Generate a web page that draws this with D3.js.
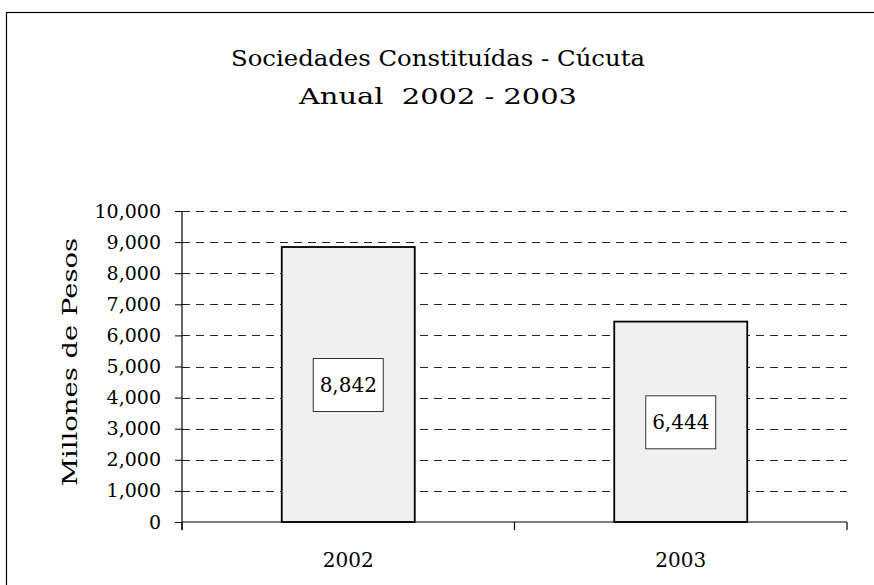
<!DOCTYPE html>
<html>
<head>
<meta charset="utf-8">
<script src="https://cdn.jsdelivr.net/npm/d3@7"></script>
<style>
  body { margin: 0; background: #fff; }
  text { font-family: "DejaVu Serif", serif; fill: #000; }
</style>
</head>
<body>
<script>
var width = 874;
var height = 585;

// chart data
var years = ['2002', '2003'];
var values = [8842, 6444];
var yTicks = [0, 1000, 2000, 3000, 4000, 5000, 6000, 7000, 8000, 9000, 10000];
var titleLines = ['Sociedades Constituídas - Cúcuta', 'Anual  2002 - 2003'];
var yLabel = 'Millones de Pesos';

var margin = {left: 182, right: 27, top: 211, bottom: 63};

var svg = d3.select('body').append('svg')
  .attr('width', width).attr('height', height);

// outer border
svg.append('rect')
  .attr('x', 6.5).attr('y', 12.5)
  .attr('width', width).attr('height', height)
  .attr('fill', 'none').attr('stroke', '#000').attr('stroke-width', 1.2);

var x = d3.scaleBand().domain(years)
  .range([margin.left, width - margin.right])
  .paddingInner(0.6).paddingOuter(0.3);

var y = d3.scaleLinear().domain([0, 10000])
  .range([height - margin.bottom, margin.top]);

// title, glyphs stretched a bit to match the wide original face
var titleWidths = [414, 278];
svg.selectAll('text.title').data(titleLines).enter().append('text')
  .attr('class', 'title')
  .attr('x', 438).attr('y', function(d, i) { return 66 + i * 38; })
  .attr('text-anchor', 'middle')
  .attr('textLength', function(d, i) { return titleWidths[i]; })
  .attr('lengthAdjust', 'spacingAndGlyphs')
  .style('font-size', '22px')
  .style('white-space', 'pre')
  .text(function(d) { return d; });

// dashed grid
svg.selectAll('line.grid').data(yTicks.slice(1)).enter().append('line')
  .attr('class', 'grid')
  .attr('x1', margin.left).attr('x2', width - margin.right)
  .attr('y1', function(d) { return Math.round(y(d)) + 0.5; })
  .attr('y2', function(d) { return Math.round(y(d)) + 0.5; })
  .attr('stroke', '#222').attr('stroke-width', 1)
  .attr('stroke-dasharray', '8,6');

// bars
svg.selectAll('rect.bar').data(values).enter().append('rect')
  .attr('class', 'bar')
  .attr('x', function(d, i) { return x(years[i]); })
  .attr('y', function(d) { return y(d); })
  .attr('width', x.bandwidth())
  .attr('height', function(d) { return y(0) - y(d); })
  .attr('fill', '#f0f0f0').attr('stroke', '#000').attr('stroke-width', 1.8);

// y axis
var yAxis = svg.append('g')
  .attr('transform', 'translate(' + margin.left + ',0)')
  .call(d3.axisLeft(y).tickValues(yTicks).tickSize(7).tickPadding(14)
    .tickFormat(d3.format(',')));
yAxis.select('.domain').remove();
yAxis.append('line')
  .attr('x1', 0).attr('x2', 0)
  .attr('y1', margin.top).attr('y2', y(0) + 8)
  .attr('stroke', '#000').attr('stroke-width', 1.2);
yAxis.selectAll('text').style('font-size', '19px');

// x axis
var xAxis = svg.append('g')
  .attr('transform', 'translate(0,' + y(0) + ')');
xAxis.append('line')
  .attr('x1', margin.left).attr('x2', width - margin.right)
  .attr('stroke', '#000').attr('stroke-width', 1.2);
var xTickPos = [margin.left, (margin.left + width - margin.right) / 2, width - margin.right];
xAxis.selectAll('line.xt').data(xTickPos).enter().append('line')
  .attr('class', 'xt')
  .attr('x1', function(d) { return d; }).attr('x2', function(d) { return d; })
  .attr('y1', 0).attr('y2', 8)
  .attr('stroke', '#000').attr('stroke-width', 1.2);
xAxis.selectAll('text').data(years).enter().append('text')
  .attr('x', function(d) { return x(d) + x.bandwidth() / 2; })
  .attr('y', 45)
  .attr('text-anchor', 'middle')
  .style('font-size', '20px')
  .text(function(d) { return d; });

// y label
svg.append('text')
  .attr('transform', 'translate(77,362) rotate(-90)')
  .attr('text-anchor', 'middle')
  .attr('textLength', 248)
  .attr('lengthAdjust', 'spacingAndGlyphs')
  .style('font-size', '21px')
  .text(yLabel);

// value labels in boxes
var labels = svg.selectAll('g.lab').data(values).enter().append('g')
  .attr('class', 'lab')
  .attr('transform', function(d, i) {
    return 'translate(' + (x(years[i]) + x.bandwidth() / 2) + ',' + y(d / 2) + ')';
  });
labels.append('rect')
  .attr('x', -35).attr('y', -26).attr('width', 70).attr('height', 53)
  .attr('fill', '#fff').attr('stroke', '#333').attr('stroke-width', 1);
labels.append('text')
  .attr('text-anchor', 'middle').attr('dy', '0.35em')
  .style('font-size', '20px')
  .text(function(d) { return d3.format(',')(d); });
</script>
</body>
</html>
